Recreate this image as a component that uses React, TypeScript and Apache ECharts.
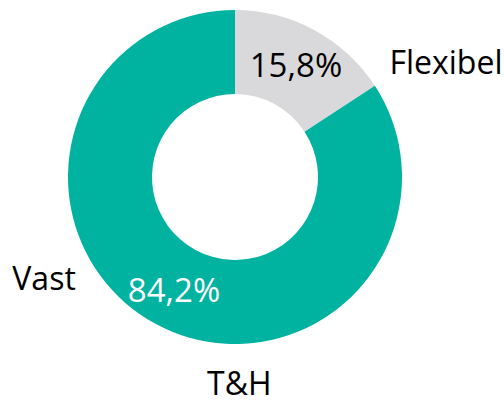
import React, { useEffect, useRef } from "react";
import * as echarts from "echarts";

const categories = ["Flexibel", "Vast"];
const shares = [15.8, 84.2];
const sliceColors = ["#D9D9DB", "#00B3A0"];
const pctColors = ["#000000", "#FFFFFF"];
const nameOffsets: [number, number][] = [[150, -3], [-130, -12]];
const titleText = "T&H";

const FONT = "'Open Sans', 'Noto Sans', sans-serif";

export default function App() {
  const ref = useRef<HTMLDivElement>(null);
  useEffect(() => {
    document.body.style.margin = "0";
    const chart = echarts.init(ref.current!, null, { renderer: "svg" });
    const fmt = (v: number) => v.toFixed(1).replace(".", ",") + "%";
    chart.setOption({
      animation: false,
      title: {
        text: titleText,
        left: 207,
        top: 366,
        padding: 0,
        textStyle: {
          fontFamily: FONT,
          fontSize: 32,
          lineHeight: 32,
          fontWeight: "normal",
          color: "#000",
        },
      },
      series: [
        {
          type: "pie",
          center: [235, 177],
          radius: [83, 167],
          startAngle: 90,
          clockwise: true,
          silent: true,
          avoidLabelOverlap: false,
          label: {
            show: true,
            position: "inside",
            fontFamily: FONT,
            fontSize: 33,
            formatter: (p: any) => fmt(p.value),
          },
          labelLine: { show: false },
          data: categories.map((c, i) => ({
            name: c,
            value: shares[i],
            itemStyle: { color: sliceColors[i] },
            label: { color: pctColors[i] },
          })),
        },
        {
          type: "pie",
          center: [235, 177],
          radius: [83, 167],
          startAngle: 90,
          clockwise: true,
          silent: true,
          avoidLabelOverlap: false,
          itemStyle: { color: "rgba(0,0,0,0)" },
          label: {
            show: true,
            position: "inside",
            fontFamily: FONT,
            fontSize: 32,
            color: "#000",
            formatter: "{b}",
          },
          labelLine: { show: false },
          data: categories.map((c, i) => ({
            name: c,
            value: shares[i],
            label: { offset: nameOffsets[i] },
          })),
        },
      ],
    });
    return () => chart.dispose();
  }, []);
  return <div ref={ref} style={{ width: 504, height: 405 }} />;
}
